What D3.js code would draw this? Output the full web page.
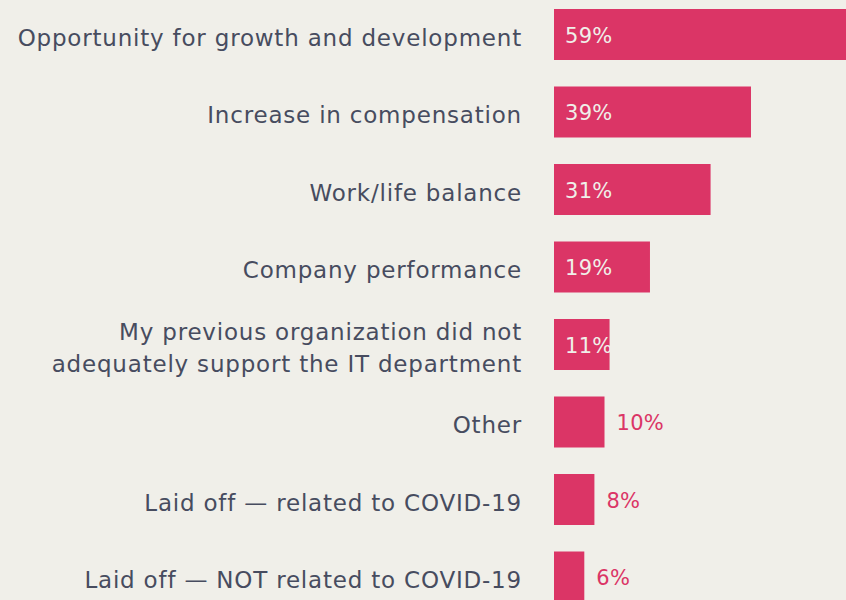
<!DOCTYPE html>
<html>
<head>
<meta charset="utf-8">
<script src="https://cdn.jsdelivr.net/npm/d3@7"></script>
<style>
  html, body { margin: 0; padding: 0; background: #f0efe9; }
  svg { display: block; font-family: "DejaVu Sans", sans-serif; }
</style>
</head>
<body>
<svg id="chart"></svg>
<script>
// Reasons for leaving previous job (share of respondents)
const categories = [
  ['Opportunity for growth and development'],
  ['Increase in compensation'],
  ['Work/life balance'],
  ['Company performance'],
  ['My previous organization did not', 'adequately support the IT department'],
  ['Other'],
  ['Laid off \u2014 related to COVID-19'],
  ['Laid off \u2014 NOT related to COVID-19']
];
const values = [59, 39, 31, 19, 11, 10, 8, 6];

const width = 846, height = 600;
const barLeft = 554;

const svg = d3.select('#chart')
    .attr('width', width)
    .attr('height', height);

const keys = categories.map((d, i) => i);

// x scale: ~5.05px per percentage point
const xScale = d3.scaleLinear()
    .domain([0, 59])
    .range([barLeft, 852]);

const yScale = d3.scaleBand()
    .domain(keys)
    .range([9, 602.5])
    .paddingInner(0.342)
    .paddingOuter(0);

const chart = svg.append('g');

// bars
chart.selectAll('.bar')
    .data(values)
    .join('rect')
    .attr('class', 'bar')
    .attr('x', xScale(0))
    .attr('y', (d, i) => yScale(i))
    .attr('width', d => xScale(d) - xScale(0))
    .attr('height', yScale.bandwidth())
    .attr('fill', '#db3566');

// value labels, inside the bar when wide enough
chart.selectAll('.value')
    .data(values)
    .join('text')
    .attr('class', 'value')
    .attr('x', d => d >= 11 ? xScale(0) + 11 : xScale(d) + 12)
    .attr('y', (d, i) => yScale(i) + yScale.bandwidth() / 2 + 1)
    .attr('dy', '0.35em')
    .attr('font-size', 21)
    .attr('letter-spacing', 0.3)
    .attr('fill', d => d >= 11 ? '#f0efe9' : '#db3566')
    .text(d => d + '%');

// category labels
const labels = chart.selectAll('.label')
    .data(categories)
    .join('text')
    .attr('class', 'label')
    .attr('text-anchor', 'end')
    .attr('font-size', 23)
    .attr('letter-spacing', 0.8)
    .attr('fill', '#474c5f')
    .attr('transform', (d, i) => `translate(522,${yScale(i) + yScale.bandwidth() / 2 + 3})`);

labels.selectAll('tspan')
    .data(d => d.map((t, j) => ({t, j, n: d.length})))
    .join('tspan')
    .attr('x', 0)
    .attr('y', d => (d.j - (d.n - 1) / 2) * 32)
    .attr('dy', '0.35em')
    .text(d => d.t);
</script>
</body>
</html>
